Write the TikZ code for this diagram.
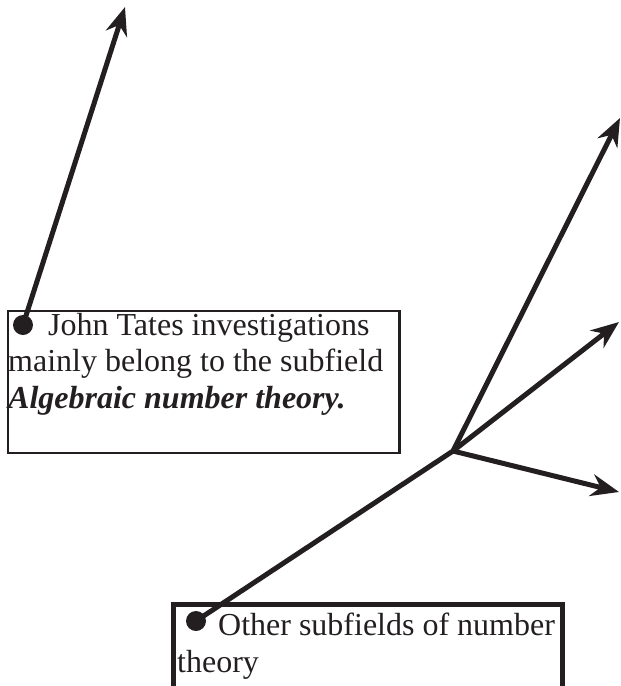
\documentclass[tikz,border=0pt]{standalone}
\usepackage{fontspec}
\setmainfont{Liberation Serif}
\usetikzlibrary{arrows.meta}
\definecolor{ink}{RGB}{35,31,32}

\tikzset{
  fieldbox/.style={draw=ink, rectangle, anchor=north west, inner sep=0pt},
  fieldtext/.style={anchor=north west, inner sep=0pt, align=left, text=ink,
    font=\fontsize{32}{36.5}\selectfont},
  bullet/.style={circle, fill=ink, inner sep=0pt, minimum size=20pt},
  pointer/.style={draw=ink, line width=5pt, -{Stealth[length=28pt,width=22pt]}},
}

\begin{document}
\begin{tikzpicture}[x=1pt, y=-1pt]
  \useasboundingbox (0,0) rectangle (621,686);

  % Define nodes
  \node[fieldbox, line width=2.5pt, minimum width=391.5pt, minimum height=142pt] (tatebox) at (6.5,309.5) {};
  \node[fieldtext] (tatetext) at (8,313)
    {\hspace*{40pt}John Tates investigations\\
     mainly belong to the subfield\\
     \textbf{\textit{Algebraic number theory.}}};
  \node[bullet] (tatedot) at (23,325) {};

  \node[fieldbox, line width=5pt, minimum width=389pt, minimum height=120pt] (otherbox) at (171,601.5) {};
  \node[fieldtext] (othertext) at (177,613)
    {\hspace*{41pt}Other subfields of number\\
     theory};
  \node[bullet] (otherdot) at (196,621) {};

  % Define vertices
  \coordinate (tatetip) at (125,7);
  \coordinate (hub) at (453,451);
  \coordinate (tipa) at (620,118);
  \coordinate (tipb) at (619,322);
  \coordinate (tipc) at (619,492);

  % Draw diagram
  \draw[pointer] (tatedot.center) -- (tatetip);
  \draw[draw=ink, line width=5pt] (otherdot.center) -- (hub);
  \draw[pointer] (hub) -- (tipa);
  \draw[pointer] (hub) -- (tipb);
  \draw[pointer] (hub) -- (tipc);
\end{tikzpicture}
\end{document}
